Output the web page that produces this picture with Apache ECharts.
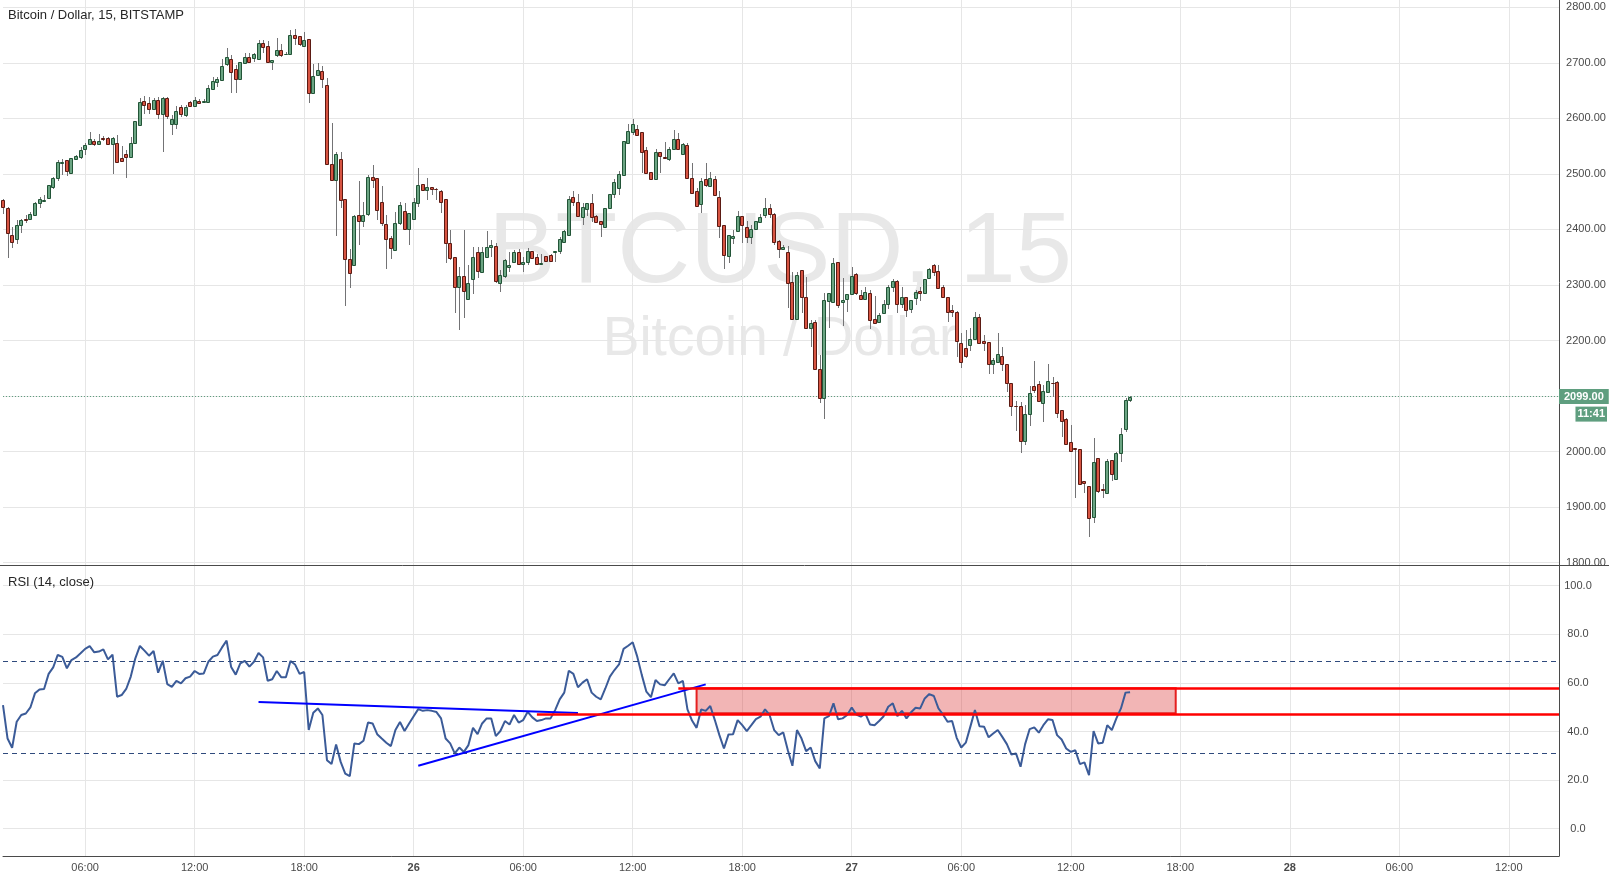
<!DOCTYPE html>
<html><head><meta charset="utf-8">
<script src="https://cdn.jsdelivr.net/npm/echarts@6/dist/echarts.min.js"></script>
<style>html,body{margin:0;padding:0;background:#fff}#c{width:1609px;height:875px}</style>
</head><body><div id="c"></div>
<script>
// ---- data (15-min bars, BTC/USD, starting 25th 01:30) ----
const opens = [2452.9,2438.5,2389.9,2383.3,2408.5,2418,2418.1,2426.5,2446.9,2450.5,2456.5,2475.7,2491.9,2519.5,2524.3,2500.9,2527.3,2530.9,2545.3,2554.3,2559.1,2554.3,2563.9,2563.9,2554.3,2554.9,2527.9,2535.7,2530.9,2554.9,2587.3,2630.5,2626.9,2616.1,2632.9,2607.1,2635.9,2589.1,2589.1,2619.7,2606.5,2628.7,2622.7,2631.1,2628.7,2629.9,2653.3,2665.9,2669.5,2698.3,2706.1,2688.1,2671.3,2700.1,2709.7,2709.1,2707.3,2735.5,2730.1,2701.9,2714.5,2722.9,2715.1,2716.3,2749.9,2748.1,2730.7,2742.1,2646.1,2678.5,2685.1,2659.9,2517.7,2489.5,2526.1,2454.7,2346.7,2335.9,2425.9,2415.7,2428.3,2494.3,2491.9,2448.7,2409.7,2383.9,2363.5,2410.9,2432.5,2400.1,2418.1,2448.1,2481.1,2470.3,2475.7,2472.7,2468.5,2454.1,2374.9,2350.3,2296.9,2315.5,2274.1,2310.1,2358.7,2322.7,2350.9,2368.9,2369.5,2302.9,2316.7,2331.7,2341.9,2358.7,2338.3,2340.7,2360.5,2349.7,2337.1,2351.5,2353.3,2360,2360.5,2377.9,2389.3,2457.7,2448.7,2422.9,2436.1,2446.9,2424.1,2415.1,2404.9,2437.9,2463.1,2475.1,2498.5,2556.1,2575.9,2580.7,2574.7,2542.9,2502.7,2490.1,2538.7,2530.3,2527.3,2544.1,2563.3,2535.1,2551.3,2491.9,2468.5,2445.1,2490.1,2478.7,2491.3,2458.9,2407.3,2352.7,2383.9,2396.5,2423.5,2403.7,2385.7,2400.1,2412.7,2425.9,2437.9,2427,2379.1,2365.3,2358.7,2305.3,2238.1,2326.3,2277.7,2221.9,2232.7,2148.1,2095.9,2271.7,2269.9,2340.7,2269.9,2275.3,2283.1,2319.1,2281.9,2274.1,2284.9,2238.1,2232.7,2250.1,2265.1,2296.9,2306.5,2265.1,2277.7,2256.1,2275.9,2289.1,2284.9,2311.9,2335.3,2324.5,2295.7,2277.7,2254.9,2252,2194.9,2185.9,2192.5,2202.7,2243,2198.5,2196.7,2157.1,2161.9,2172.1,2157.7,2123.5,2082,2082.1,2019.7,2067.1,2117.5,2121.7,2088.1,2107.9,2123.2,2125.3,2074.9,2058.7,2016.7,2007.1,2004.7,1947.1,1938.1,1882.9,1988.5,1932.1,1924.9,1984.3,1950.1,1996.9,2040.7,2092.5];
const closes = [2439.7,2394.1,2377.9,2407.9,2416.9,2417,2427.1,2446.9,2454.7,2452.9,2479.3,2491.9,2521.3,2520.5,2505.7,2527.9,2532.1,2542.9,2551.3,2562.1,2554.3,2559.1,2562.7,2554.3,2563.9,2521.9,2523.1,2530.9,2554.9,2594.5,2628.7,2623.3,2617.3,2632.3,2607.1,2636.5,2603.5,2598.1,2613.1,2608.3,2619.7,2622.7,2632.3,2628.1,2631.1,2653.9,2666.5,2670.1,2693.5,2709.7,2682.7,2671.3,2700.7,2709.7,2701.9,2715.1,2735.5,2728.9,2701.9,2704.9,2722.9,2714.5,2716.3,2749.9,2745.1,2734.3,2740.9,2646.1,2676.1,2686.9,2670.7,2517.1,2489.5,2535.7,2453.5,2347.3,2322.1,2424.1,2415.7,2425.9,2494.3,2489.5,2435.5,2412.1,2383.3,2367.1,2410.9,2443.3,2400.1,2428.9,2448.7,2479.9,2470.3,2475.7,2472.1,2472.5,2449.9,2374.9,2349.1,2296.9,2315.5,2289.7,2302.9,2349.7,2325.7,2358.7,2368.9,2371.3,2306.5,2317.3,2344.9,2335.3,2358.7,2337.1,2340.7,2360.5,2347.9,2337.7,2338.9,2343.7,2342.5,2360.5,2382.1,2397.1,2454.7,2448.7,2424.7,2439.7,2446.9,2422.9,2413.9,2409.7,2437.9,2463.7,2485.3,2499.7,2558.5,2576.5,2589.7,2569.3,2538.7,2502.1,2490.1,2538.7,2531.5,2527.9,2544.1,2562.1,2544.1,2553.7,2491.9,2464.9,2441.5,2486.5,2480.5,2491.9,2461.3,2406.7,2353.3,2389.3,2388.1,2424.1,2407.3,2385.7,2400.1,2414.5,2421.7,2437.9,2427,2377.9,2364.1,2368.9,2304.1,2238.1,2317.9,2277.7,2221.9,2230.9,2148.1,2095.9,2272.9,2284.9,2338.9,2263.3,2272.9,2283.1,2316.1,2284.9,2275.3,2286.7,2236.3,2231.5,2245.3,2265.1,2296.9,2306.5,2265.1,2277.7,2254.9,2272.3,2287.9,2284.9,2310.1,2328.1,2323.9,2293.9,2277.7,2251.9,2251.9,2199.7,2161.9,2172.7,2202.7,2243,2196.1,2196.1,2157.1,2164.9,2175.7,2157.1,2122.9,2081.5,2081.5,2019.7,2067.1,2105.5,2110.9,2091.1,2109.1,2127.1,2122.9,2070.1,2055.7,2013.1,2001.7,2004.1,1941.1,1943.5,1881.1,1980.7,1929.1,1931.5,1983.1,1959.1,1996.9,2031.7,2092.9,2099.0];
const lows = [2427.7,2349.1,2367.1,2373.1,2394.1,2410.9,2416.9,2424.1,2438.5,2449.3,2454.7,2473.3,2487.7,2498.5,2496.7,2500,2526.1,2527.3,2534.5,2551.3,2550.7,2553.1,2559.1,2554,2500.3,2521,2520.7,2493.1,2530,2554,2587,2607.7,2607.7,2616,2599.3,2539.9,2599.3,2570.5,2580.1,2602.3,2602.9,2622.1,2619.7,2626.3,2628.1,2628.1,2651.5,2656.9,2668.9,2694.7,2646.1,2646.1,2671,2700,2699.5,2700.7,2707,2718.1,2701.5,2686.9,2710.9,2710.9,2714.5,2716,2732.5,2730.7,2730,2628.1,2643.7,2677.3,2655.1,2517,2489,2388.1,2439.1,2262.1,2295.1,2335,2372.5,2404.9,2424.7,2475.1,2417.5,2406.7,2328.1,2347.3,2361.1,2407.9,2400,2372.5,2416.3,2440.9,2470,2452.9,2462.5,2452.9,2430.1,2338.9,2344.9,2248.9,2218.9,2239.9,2274,2283.1,2311.9,2322.5,2350.5,2349.7,2302.9,2287.9,2311.9,2323.9,2341.5,2335.9,2323.9,2335.9,2347.5,2335.9,2337,2343.5,2342,2341.3,2355.1,2377.5,2389,2442.7,2424.5,2407.9,2424.7,2413.9,2410.9,2386.9,2404.8,2437.8,2457.1,2461.9,2498,2554.9,2570.5,2569,2500.9,2500.9,2490,2490,2500.9,2527.8,2523.7,2542.9,2544,2535,2491.8,2464.8,2441.4,2430.1,2475.7,2475.7,2461.2,2383.9,2329.3,2338.9,2373.1,2396.4,2376.1,2376.1,2373.1,2398.9,2410.9,2419.9,2420,2372,2347.9,2364,2257.9,2238,2238,2248.9,2221.8,2188.9,2148,2088.1,2058.1,2221.9,2269.8,2257.9,2226.7,2251.9,2283,2281.9,2272.9,2274,2220.1,2229.7,2232.6,2248.9,2256.1,2287.9,2250.1,2257.9,2241.7,2250.1,2263.3,2271.7,2284.8,2311.8,2316.7,2293.8,2277.6,2233.9,2241.7,2169.7,2149.9,2167.9,2181.7,2202,2195,2181.7,2139.7,2139.7,2158.9,2145.7,2107.9,2064.1,2037.7,1998.1,2011.9,2046.1,2106.1,2091,2053.9,2107.8,2097.7,2061.1,2025.7,2013,2001.6,1915.9,1941,1924.9,1846.9,1872.1,1926.1,1917.1,1924.8,1947.7,1950,1981.9,2035.9,2089.9];
const highs = [2455,2440.9,2404.9,2416.9,2418.1,2425.9,2431.3,2448.7,2457.7,2461.9,2480.5,2493.7,2524.9,2526.7,2524.3,2528,2533.9,2548.9,2556.1,2575.3,2563.3,2571.7,2568.1,2566.3,2566.9,2569.9,2550.1,2542.9,2566.3,2595,2636.5,2640.1,2638.9,2636.5,2637.7,2638.9,2637.7,2605.9,2622.1,2623.3,2623.3,2631.7,2637.7,2634.7,2634.7,2659.9,2673.7,2674.9,2706.1,2726.5,2713.9,2695.9,2701,2717.5,2717.5,2716.9,2741.5,2740.3,2739.1,2705,2744.5,2733.7,2719.3,2758.9,2760.7,2749,2755.3,2742.5,2697.7,2699.5,2694.1,2672.5,2591.5,2539.3,2539.3,2455,2364.7,2425.9,2487.1,2449.3,2497.9,2515.9,2492,2478.7,2425.9,2388.1,2431.3,2449.3,2446.9,2429,2456.5,2510.5,2481.5,2491.9,2476,2474.5,2470.9,2454.5,2398.9,2350.5,2331.7,2398.9,2335.9,2368.9,2368.9,2368.9,2397.7,2380.9,2374.9,2326.9,2347.3,2359.3,2362.9,2364.7,2349.7,2366.5,2361.7,2355.7,2355.7,2352.7,2355.1,2361.7,2386.9,2398.9,2459.5,2468.5,2463.7,2446.9,2447,2463.7,2425.9,2415.2,2438,2464,2490.1,2505.7,2559,2589.7,2598.7,2587.9,2575,2548.9,2503.9,2544.7,2539,2557.9,2547.7,2578.9,2572.9,2556.1,2556.1,2518.9,2474.5,2491.9,2518.9,2502.7,2496.1,2469.7,2407.4,2389.4,2398.9,2432.5,2423.6,2414.5,2407.3,2414.6,2427.7,2456.5,2446,2430,2381,2372,2370.7,2323.3,2323.9,2326.4,2314.9,2236.9,2236.9,2173.9,2286.1,2285,2347.9,2340.8,2311.9,2283.2,2331.7,2320.9,2290.9,2296.9,2290.9,2280.1,2250.1,2272.9,2299.9,2310.1,2308.9,2295.7,2278,2272.9,2290.9,2296.9,2310.2,2329.9,2337.7,2335.9,2299.9,2277.8,2263.9,2254,2212.9,2218.9,2222,2252,2248,2209.9,2196.8,2168.5,2214.1,2187.7,2157.8,2123.6,2091.1,2089.9,2083.3,2118.1,2163.1,2127.7,2119.9,2157.7,2133.7,2127.1,2075,2061.1,2047.9,2007.2,2004.8,1947.2,1938.2,2023.9,1988.6,1941.7,1986.7,1984.4,1999.3,2041.9,2095.9,2099.5];
const rsi = [50.9,37.1,33.3,44.0,46.8,47.4,49.9,55.7,57.3,57.5,63.7,66.4,71.5,70.7,66.0,69.4,70.5,72.2,74.0,75.1,72.6,72.9,73.8,69.7,71.6,54.3,55.0,57.5,62.6,70.1,75.2,73.3,71.2,73.1,64.2,69.1,59.5,58.4,60.8,59.8,61.9,62.6,64.9,63.7,63.9,68.7,70.8,71.5,74.6,77.4,66.5,63.4,68.0,69.1,66.7,68.7,72.3,70.5,60.9,61.5,64.9,62.3,62.3,69.0,67.6,63.7,64.5,40.6,47.7,49.5,46.8,28.2,26.6,34.7,27.5,22.7,21.6,35.1,34.8,36.2,43.7,43.3,38.9,37.1,35.4,34.0,40.6,43.9,40.2,43.3,46.3,49.2,48.5,48.8,48.5,48.0,45.4,37.1,35.1,31.0,33.4,31.6,34.4,41.5,38.9,43.3,45.4,45.4,38.1,40.2,44.3,42.9,46.8,43.7,44.7,48.1,45.8,44.3,44.7,45.4,45.4,48.8,53.2,56.0,65.0,63.7,58.2,60.1,61.5,56.0,54.3,53.2,57.7,62.6,65.3,67.6,74.0,75.3,76.7,70.8,63.2,56.4,54.1,61.2,59.4,59.0,61.5,63.9,59.8,60.8,49.1,44.5,41.5,49.1,48.5,50.5,44.7,38.5,33.0,38.8,38.9,44.7,42.6,40.2,42.6,45.1,46.1,49.1,46.8,40.6,38.5,39.6,32.3,25.9,40.6,37.1,31.9,33.4,27.8,24.8,45.4,46.3,51.6,45.0,45.4,46.8,49.9,47.0,46.1,47.4,42.9,42.6,44.3,46.3,50.2,51.6,46.3,48.5,45.4,47.9,49.8,49.5,53.6,55.4,54.6,49.5,47.0,44.0,44.3,37.4,33.4,35.4,42.0,48.8,42.2,42.0,37.6,39.2,40.6,37.8,34.8,30.5,31.0,25.5,34.8,41.0,41.7,39.5,42.6,45.0,44.7,38.5,36.7,33.0,31.6,32.3,26.6,27.3,22.0,40.2,35.1,35.4,42.6,40.6,45.4,49.5,56.0,56.2];

const xTickLabels = ['06:00','12:00','18:00','26','06:00','12:00','18:00','27','06:00','12:00','18:00','28','06:00','12:00'];
const dayLabels = ['26','27','28'];
const priceTicks = [1800,1900,2000,2100,2200,2300,2400,2500,2600,2700,2800];
const rsiTicks = [0,20,40,60,80,100];
const lastPrice = 2099.00;
const countdown = '11:41';
const rsiBands = [69, 31];
// drawings on RSI pane: [categoryIndex, rsiValue]
const descLine = [[56, 52.1], [126, 47.6]];
const ascLine = [[91, 25.9], [154, 59.4]];
const redLower = [[117, 47.2], [341, 47.2]];
const redUpper = [[148, 57.7], [341, 57.7]];
const zoneBox = [[152, 57.8], [257, 47.5]];

const TOTAL_SLOTS = 342;   // bars + empty future space
const FIRST_LABEL = 18;    // index of 25th 06:00
const LABEL_STEP = 24;     // 6 hours

// categories (time strings)
const cats = [];
for (let k = 0; k < TOTAL_SLOTS; k++) {
  const m = 90 + 15 * k;
  const d = 25 + Math.floor(m / 1440);
  const mm = m % 1440;
  const hh = String(Math.floor(mm / 60)).padStart(2, '0');
  const mi = String(mm % 60).padStart(2, '0');
  cats.push(d + ' ' + hh + ':' + mi);
}
const isLabelIdx = (i) => i >= FIRST_LABEL && (i - FIRST_LABEL) % LABEL_STEP === 0;

const FONT = "'Liberation Sans', Arial, sans-serif";
const GRID_COLOR = '#e6e6e6';
const AXIS_COLOR = '#4a4a4a';
const TEXT_COLOR = '#4a4a4a';
const UP = '#6ba583', UP_B = '#225437', DN = '#d75442', DN_B = '#5b1a13', WICK = '#737375';
const LABEL_GREEN = '#5f9e7f';

const candleData = opens.map((o, i) => [i, o, closes[i], lows[i], highs[i]]);

const chart = echarts.init(document.getElementById('c'), null, {renderer: 'canvas'});

const gridL = 3, gridW = 1556;
const option = {
  animation: false,
  backgroundColor: '#ffffff',
  textStyle: {fontFamily: FONT},
  title: [
    {text: 'Bitcoin / Dollar, 15, BITSTAMP', left: 8, top: 9, padding: 0,
     textStyle: {fontSize: 13, fontWeight: 'normal', color: '#262626', fontFamily: FONT}},
    {text: 'RSI (14, close)', left: 8, top: 576, padding: 0,
     textStyle: {fontSize: 13, fontWeight: 'normal', color: '#262626', fontFamily: FONT}}
  ],
  grid: [
    {left: gridL, width: gridW, top: 7.2, height: 555.5},   // price
    {left: gridL, width: gridW, top: 0, height: 565},       // main pane frame
    {left: gridL, width: gridW, top: 585.7, height: 243},   // rsi 0..100
    {left: gridL, width: gridW, top: 566, height: 290}      // lower pane frame + time axis
  ],
  xAxis: [0, 1, 2, 3].map(g => ({
    type: 'category', gridIndex: g, data: cats, boundaryGap: false,
    axisTick: {show: false},
    axisLine: {show: g === 3, lineStyle: {color: AXIS_COLOR, width: 1}},
    splitLine: {show: g === 1 || g === 3, interval: (i) => isLabelIdx(i),
                lineStyle: {color: GRID_COLOR, width: 1}},
    axisLabel: g === 3 ? {
      show: true, interval: (i) => isLabelIdx(i), margin: 6,
      color: TEXT_COLOR, fontSize: 11, fontFamily: FONT,
      formatter: function (v, i) {
        const t = xTickLabels[(i - FIRST_LABEL) / LABEL_STEP];
        if (t === undefined) return '';
        return dayLabels.indexOf(t) >= 0 ? '{d|' + t + '}' : t;
      },
      rich: {d: {fontWeight: 'bold', fontSize: 11, color: TEXT_COLOR, fontFamily: FONT}}
    } : {show: false}
  })),
  yAxis: [
    {type: 'value', gridIndex: 0, position: 'right', min: priceTicks[0], max: priceTicks[priceTicks.length - 1], interval: 100,
     axisLine: {show: false}, axisTick: {show: false},
     splitLine: {show: true, lineStyle: {color: GRID_COLOR}},
     axisLabel: {show: true, color: TEXT_COLOR, fontSize: 11, fontFamily: FONT, margin: 27, align: 'center',
                 formatter: (v) => v.toFixed(2)}},
    {type: 'value', gridIndex: 1, position: 'right', min: 0, max: 1,
     axisLine: {show: true, lineStyle: {color: AXIS_COLOR}}, axisTick: {show: false},
     splitLine: {show: false}, axisLabel: {show: false}},
    {type: 'value', gridIndex: 2, position: 'right', min: rsiTicks[0], max: rsiTicks[rsiTicks.length - 1], interval: 20,
     axisLine: {show: false}, axisTick: {show: false},
     splitLine: {show: true, lineStyle: {color: GRID_COLOR}},
     axisLabel: {show: true, color: TEXT_COLOR, fontSize: 11, fontFamily: FONT, margin: 19, align: 'center',
                 formatter: (v) => v.toFixed(1)}},
    {type: 'value', gridIndex: 3, position: 'right', min: 0, max: 1,
     axisLine: {show: true, lineStyle: {color: AXIS_COLOR}}, axisTick: {show: false},
     splitLine: {show: false}, axisLabel: {show: false}}
  ],
  series: [
    {
      type: 'custom', name: 'BTCUSD', xAxisIndex: 0, yAxisIndex: 0, data: candleData,
      encode: {x: 0, y: [1, 2, 3, 4]}, silent: true, z: 5,
      renderItem: function (params, api) {
        const i = api.value(0), o = api.value(1), c = api.value(2), l = api.value(3), h = api.value(4);
        const pO = api.coord([i, o]), pC = api.coord([i, c]), pL = api.coord([i, l]), pH = api.coord([i, h]);
        const up = c >= o;
        const cx = pO[0];
        const x0 = Math.round(cx - 2);
        const top = Math.round(Math.min(pO[1], pC[1]));
        const bot = Math.round(Math.max(pO[1], pC[1]));
        return {
          type: 'group', children: [
            {type: 'line', shape: {x1: x0 + 2.5, y1: Math.round(pH[1]), x2: x0 + 2.5, y2: Math.round(pL[1])},
             style: {stroke: WICK, lineWidth: 1}},
            {type: 'rect', shape: {x: x0 + 0.5, y: top + 0.5, width: 3, height: Math.max(0, bot - top)},
             style: {fill: up ? UP : DN, stroke: up ? UP_B : DN_B, lineWidth: 1}}
          ]
        };
      }
    },
    {
      type: 'line', name: 'last', xAxisIndex: 0, yAxisIndex: 0, data: closes,
      symbol: 'none', silent: true, lineStyle: {opacity: 0}, z: 1,
      markLine: {
        silent: true, symbol: 'none', precision: 2,
        lineStyle: {color: LABEL_GREEN, type: [1, 2], width: 1},
        label: {show: true, position: 'end', distance: 0, formatter: () => lastPrice.toFixed(2),
                backgroundColor: LABEL_GREEN, color: '#fff', fontSize: 11, fontWeight: 'bold',
                fontFamily: FONT, padding: [2, 5, 2, 5]},
        data: [{yAxis: lastPrice}]
      }
    },
    {
      type: 'line', name: 'RSI', xAxisIndex: 2, yAxisIndex: 2, data: rsi,
      symbol: 'none', silent: true, z: 4,
      lineStyle: {color: '#3b5b98', width: 2},
      markLine: {
        silent: true, symbol: 'none', label: {show: false}, z: 5,
        data: [
          {yAxis: rsiBands[0], lineStyle: {color: '#2f4a7d', type: [5, 4], width: 1}},
          {yAxis: rsiBands[1], lineStyle: {color: '#2f4a7d', type: [5, 4], width: 1}},
          [{coord: descLine[0], lineStyle: {color: '#0000ff', width: 2, type: 'solid'}}, {coord: descLine[1]}],
          [{coord: ascLine[0], lineStyle: {color: '#0000ff', width: 2, type: 'solid'}}, {coord: ascLine[1]}],
          [{coord: redLower[0], lineStyle: {color: '#ff0000', width: 2.5, type: 'solid'}}, {coord: redLower[1]}],
          [{coord: redUpper[0], lineStyle: {color: '#ff0000', width: 2.5, type: 'solid'}}, {coord: redUpper[1]}]
        ]
      },
      markArea: {
        silent: true,
        itemStyle: {color: 'rgba(220,60,60,0.38)', borderColor: '#e52020', borderWidth: 2},
        data: [[{coord: zoneBox[0]}, {coord: zoneBox[1]}]]
      }
    }
  ],
  graphic: [
    {type: 'text', z: -1, silent: true,
     style: {text: 'BTCUSD, 15', x: 780, y: 254, align: 'center', verticalAlign: 'middle',
             fontSize: 101, fontFamily: FONT, fill: '#e8e8e8'}},
    {type: 'text', z: -1, silent: true,
     style: {text: 'Bitcoin / Dollar', x: 780, y: 340, align: 'center', verticalAlign: 'middle',
             fontSize: 55, fontFamily: FONT, fill: '#e8e8e8'}},
    {type: 'line', z: 100, silent: true, shape: {x1: 0, y1: 565.5, x2: 1609, y2: 565.5},
     style: {stroke: AXIS_COLOR, lineWidth: 1}},
    {type: 'rect', z: 99, silent: true, shape: {x: 1560, y: 566, width: 49, height: 9},
     style: {fill: '#ffffff'}}
  ]
};
chart.setOption(option);

const py = chart.convertToPixel({yAxisIndex: 0}, lastPrice);
chart.setOption({
  graphic: [
    {type: 'text', id: 'countdown', z: 101, silent: true, right: 2, top: py + 10,
     style: {text: countdown, fill: '#fff', backgroundColor: LABEL_GREEN, padding: [2, 2, 2, 2],
             font: 'bold 11px ' + FONT}}
  ]
});
</script>
</body></html>
